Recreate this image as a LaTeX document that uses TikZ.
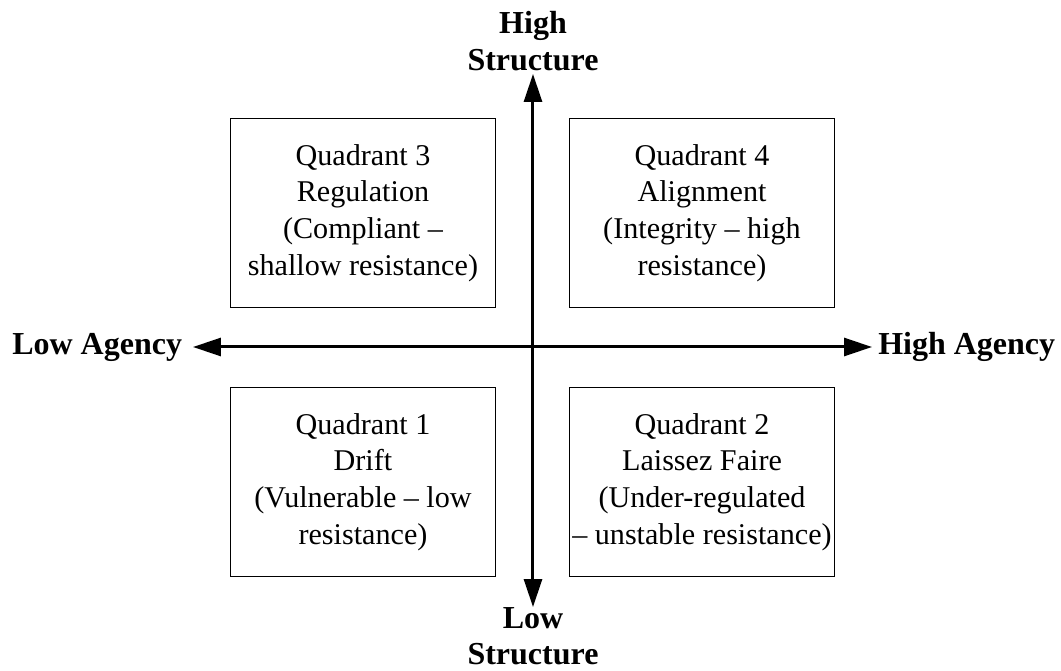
\documentclass[tikz,border=0pt]{standalone}
\usepackage{fontspec}
\setmainfont{Liberation Serif}
\usetikzlibrary{arrows.meta, positioning}

\tikzset{
    quadbox/.style={draw, line width=0.75pt, align=center, inner xsep=1pt,
        minimum width=199pt, minimum height=142pt, font=\fontsize{22.6}{27.6}\selectfont},
    axislabel/.style={align=center, inner sep=0pt, font=\fontsize{24}{27.75}\selectfont\bfseries},
    axis/.style={line width=2.25pt, {Triangle[length=21pt, width=13.5pt]}-{Triangle[length=21pt, width=13.5pt]}}
}

\begin{document}
\begin{tikzpicture}[x=0.75pt, y=0.75pt]
    \useasboundingbox (-533,-324) rectangle (528,347);

    % Ends of the two axes
    \coordinate (top) at (0,273);
    \coordinate (bottom) at (0,-260);
    \coordinate (left) at (-340,0);
    \coordinate (right) at (339,0);

    % Draw the axes
    \draw[axis] (left) -- (right);
    \draw[axis] (bottom) -- (top);

    % Axis labels
    \node[axislabel, above=2pt of top] (highS) {High\\Structure};
    \node[axislabel, below=0.5pt of bottom, font=\fontsize{24}{27}\selectfont\bfseries] (lowS) {Low\\Structure};
    \node[axislabel, left=8pt of left] (lowA) {Low Agency};
    \node[axislabel, right=4.5pt of right] (highA) {High Agency};

    % The four quadrants
    \node[quadbox] (Q3) at (-170,134) {Quadrant 3\\Regulation\\(Compliant --\\shallow resistance)};
    \node[quadbox] (Q4) at (169,134) {Quadrant 4\\Alignment\\(Integrity -- high\\resistance)};
    \node[quadbox] (Q1) at (-170,-135) {Quadrant 1\\Drift\\(Vulnerable -- low\\resistance)};
    \node[quadbox] (Q2) at (169,-135) {Quadrant 2\\Laissez Faire\\(Under-regulated\\-- unstable resistance)};

\end{tikzpicture}
\end{document}
